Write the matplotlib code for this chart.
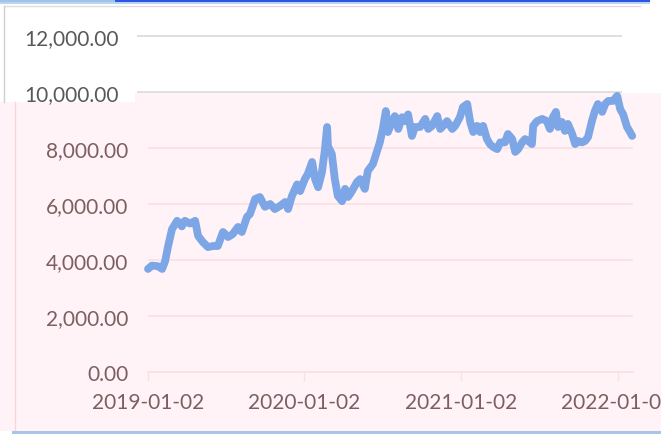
import matplotlib
matplotlib.use("Agg")
import matplotlib.pyplot as plt
import matplotlib.dates as mdates
from matplotlib.patches import Rectangle
from matplotlib.lines import Line2D
import numpy as np
import pandas as pd

# ---------------- data ----------------
dates = [
    "2019-01-02", "2019-01-11", "2019-01-25", "2019-02-04", "2019-02-11", "2019-02-18",
    "2019-02-27", "2019-03-11", "2019-03-22", "2019-03-29", "2019-04-10", "2019-04-22",
    "2019-04-29", "2019-05-10", "2019-05-22", "2019-06-03", "2019-06-14", "2019-06-26",
    "2019-07-08", "2019-07-19", "2019-07-31", "2019-08-09", "2019-08-21", "2019-08-28",
    "2019-09-09", "2019-09-20", "2019-10-02", "2019-10-14", "2019-10-25", "2019-11-06",
    "2019-11-18", "2019-11-25", "2019-12-04", "2019-12-16", "2019-12-23", "2020-01-03",
    "2020-01-10", "2020-01-20", "2020-01-27", "2020-02-03", "2020-02-12", "2020-02-19",
    "2020-02-24", "2020-02-26", "2020-03-06", "2020-03-13", "2020-03-20", "2020-03-30",
    "2020-04-06", "2020-04-13", "2020-04-22", "2020-05-04", "2020-05-11", "2020-05-22",
    "2020-05-29", "2020-06-10", "2020-06-19", "2020-06-26", "2020-07-03", "2020-07-10",
    "2020-07-15", "2020-07-24", "2020-07-31", "2020-08-08", "2020-08-17", "2020-08-24",
    "2020-08-31", "2020-09-09", "2020-09-16", "2020-09-28", "2020-10-10", "2020-10-17",
    "2020-10-26", "2020-11-07", "2020-11-14", "2020-11-21", "2020-11-30", "2020-12-12",
    "2020-12-19", "2020-12-30", "2021-01-06", "2021-01-16", "2021-01-23", "2021-01-30",
    "2021-02-08", "2021-02-15", "2021-02-22", "2021-03-03", "2021-03-10", "2021-03-17",
    "2021-03-27", "2021-04-03", "2021-04-14", "2021-04-21", "2021-05-01", "2021-05-08",
    "2021-05-15", "2021-05-24", "2021-05-31", "2021-06-07", "2021-06-16", "2021-06-19",
    "2021-06-28", "2021-07-10", "2021-07-21", "2021-07-28", "2021-08-04", "2021-08-11",
    "2021-08-16", "2021-08-25", "2021-09-01", "2021-09-08", "2021-09-18", "2021-09-25",
    "2021-10-02", "2021-10-11", "2021-10-18", "2021-10-25", "2021-11-03", "2021-11-10",
    "2021-11-17", "2021-11-27", "2021-12-04", "2021-12-11", "2021-12-22", "2022-01-01",
    "2022-01-08", "2022-01-15", "2022-01-24", "2022-01-31", "2022-02-05",
]
values = [
    3680, 3800, 3780, 3680, 3960, 4500, 5100, 5400, 5200, 5400, 5300, 5400,
    4860, 4640, 4460, 4500, 4500, 5000, 4820, 4930, 5180, 5000, 5540, 5640,
    6180, 6250, 5900, 6000, 5820, 5930, 6070, 5820, 6290, 6700, 6460, 6890,
    7070, 7500, 6890, 6600, 7140, 7960, 8750, 8070, 7790, 6890, 6290, 6100,
    6540, 6250, 6460, 6790, 6890, 6540, 7180, 7430, 7860, 8200, 8680, 9320,
    8570, 8930, 9140, 8680, 9100, 8960, 9200, 8430, 8750, 8750, 9040, 8680,
    8790, 9140, 8680, 8790, 8960, 8680, 8790, 9100, 9460, 9570, 8930, 8570,
    8790, 8570, 8790, 8320, 8140, 8040, 7960, 8200, 8200, 8500, 8320, 7860,
    7960, 8200, 8320, 8250, 8140, 8790, 8960, 9040, 8960, 8680, 9100, 9290,
    8750, 8930, 8610, 8860, 8500, 8140, 8250, 8200, 8250, 8390, 8960, 9320,
    9570, 9290, 9570, 9680, 9680, 9860, 9390, 9200, 8750, 8570, 8430,
]
x_ticks = ["2019-01-02", "2020-01-02", "2021-01-02", "2022-01-02"]
y_ticks_main = [0, 2000, 4000, 6000, 8000]
y_ticks_top = [10000, 12000]

# ---------------- layout helpers ----------------
W, H = 661, 439
fig = plt.figure(figsize=(W / 100, H / 100), dpi=100)
fig.patch.set_facecolor("white")

def fx(px):
    return px / W

def fy(py):
    return 1 - py / H

def frect(x0, y0, x1, y1, color, z=-5):
    fig.patches.append(Rectangle((fx(x0), fy(y1)), fx(x1) - fx(x0), fy(y0) - fy(y1),
                                 transform=fig.transFigure, facecolor=color,
                                 edgecolor="none", zorder=z))

def fline(x0, y0, x1, y1, color, lw=1.0, z=-4):
    fig.lines.append(Line2D([fx(x0), fx(x1)], [fy(y0), fy(y1)], transform=fig.transFigure,
                            color=color, lw=lw, zorder=z))

pink_bg = "#fff3f7"
pink_grid = "#fbdfe1"
pink_text = "#7d5f62"
gray_text = "#595959"
line_color = "#7ca6e6"

# background panels
frect(0, 103, W, 432, pink_bg)
frect(135, 94, W, 104, pink_bg)
frect(0, 0, 115, 3, "#9fc4e8", z=-3)
frect(115, 0, 650, 3, "#2d55e8", z=-3)
frect(0, 3, 650, 5, "#b9d4f0", z=-3)
frect(12, 432, W, 435, "#a5c6ea", z=-3)
fline(5, 7, 640, 7, "#dcdcdc")
fline(4, 7, 4, 103, "#cfcfcf")
fline(15, 103, 15, 432, "#f8d6d8")

font = ["Lato", "DejaVu Sans"]
fs = 15

# ---------------- top (white) axis fragment ----------------
ax_top_bottom_px, ax_top_top_px = 94, 5
def px_to_val(py):
    return (373 - py) / 28 * 1000
axt = fig.add_axes([fx(137), fy(ax_top_bottom_px), fx(622) - fx(137),
                    fy(ax_top_top_px) - fy(ax_top_bottom_px)])
axt.set_facecolor("none")
axt.set_ylim(px_to_val(ax_top_bottom_px), px_to_val(ax_top_top_px))
axt.set_yticks(y_ticks_top)
axt.set_yticklabels([f"{v:,.2f}" for v in y_ticks_top], fontsize=fs, color=gray_text,
                    family=font)
axt.tick_params(axis="y", length=0, pad=13)
axt.set_xticks([])
axt.grid(axis="y", color="#d9d9d9", lw=1.2)
for s in axt.spines.values():
    s.set_visible(False)

# ---------------- main (pink) axis ----------------
d = pd.to_datetime(dates)
x0 = pd.Timestamp("2019-01-02")
x1 = x0 + pd.Timedelta(days=(633 - 148) * 365.25 / 156.5)
ax = fig.add_axes([fx(148), fy(373), fx(633) - fx(148), fy(94) - fy(373)])
ax.set_facecolor("none")
ax.plot(d, values, color=line_color, lw=5.6, solid_joinstyle="round",
        solid_capstyle="round", zorder=3, clip_on=False)
ax.set_xlim(x0, x1)
ax.set_ylim(0, px_to_val(94))
ax.set_yticks(y_ticks_main)
ax.set_yticklabels([f"{v:,.2f}" for v in y_ticks_main], fontsize=fs, color=pink_text,
                   family=font)
ax.tick_params(axis="y", length=0, pad=14)
ax.set_xticks(pd.to_datetime(x_ticks))
ax.set_xticklabels(x_ticks, fontsize=fs, color=pink_text, family=font)
ax.tick_params(axis="x", length=6.5, width=1, color=pink_grid, pad=8)
ax.grid(axis="y", color=pink_grid, lw=1.2, zorder=0)
for k in ["left", "right", "top"]:
    ax.spines[k].set_visible(False)
ax.spines["bottom"].set_color(pink_grid)
ax.spines["bottom"].set_linewidth(1.2)

fig.savefig("out.png", dpi=100)
